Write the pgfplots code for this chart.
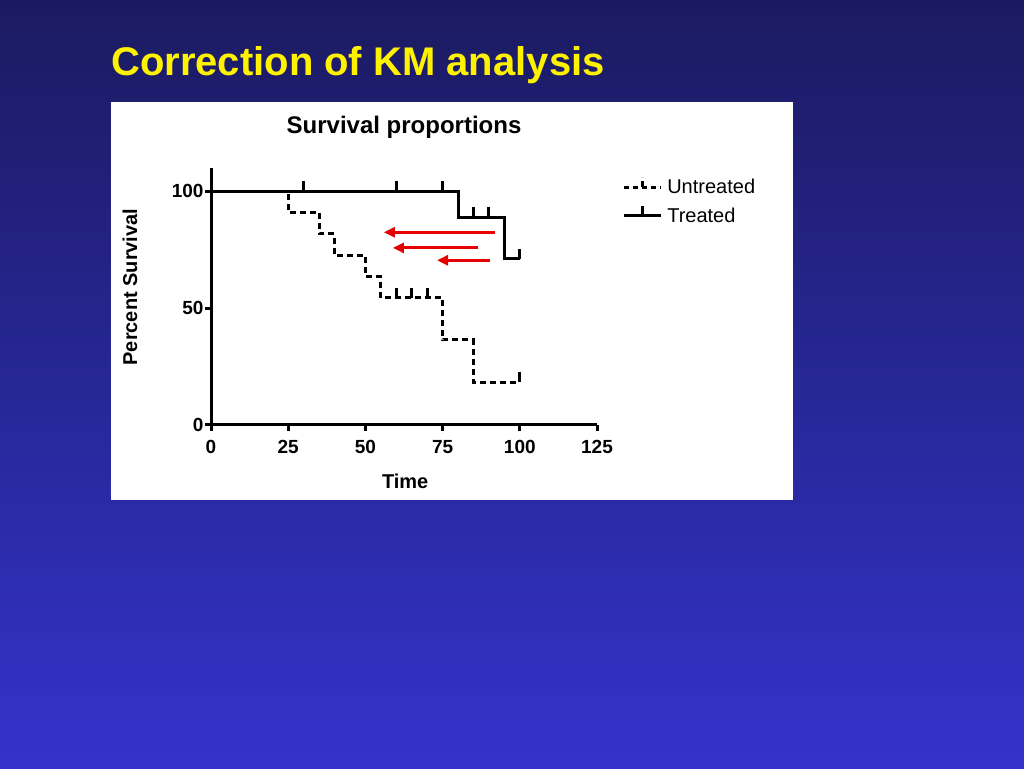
\documentclass[border=0pt]{standalone}
\usepackage{fontspec}
\setmainfont{Liberation Sans}
\usepackage{pgfplots}
\pgfplotsset{compat=1.18}
\usetikzlibrary{arrows.meta}
\definecolor{bgtop}{RGB}{27,26,96}
\definecolor{bgbot}{RGB}{51,51,204}
\definecolor{arrowred}{RGB}{232,0,0}
\pgfdeclareplotmark{cens}{%
  \pgfpathmoveto{\pgfqpoint{0pt}{0pt}}%
  \pgfpathlineto{\pgfqpoint{0pt}{10pt}}%
  \pgfusepathqstroke}
\begin{document}
\begin{tikzpicture}
\useasboundingbox (0pt,0pt) rectangle (1024pt,768pt);
\shade[top color=bgtop, bottom color=bgbot] (0pt,0pt) rectangle (1024pt,768pt);
\fill[white] (111pt,268pt) rectangle (793pt,666pt);
\node[anchor=base west, text=yellow, font=\fontsize{40}{48}\selectfont\bfseries, inner sep=0pt] at (111pt,692pt) {Correction of KM analysis};
\begin{axis}[
  at={(211pt,343pt)}, anchor=south west,
  scale only axis, width=386pt, height=257pt,
  xmin=0, xmax=125, ymin=0, ymax=110,
  axis lines=left,
  axis line style={-, line width=3pt},
  clip=false,
  xtick={0,25,50,75,100,125},
  ytick={0,50,100},
  tick align=outside,
  major tick length=6pt,
  every tick/.style={black, line width=3pt},
  /pgf/number format/assume math mode=true,
  tick label style={font=\fontsize{19}{21}\selectfont\bfseries},
  xticklabel style={anchor=north, text height=14pt, text depth=0pt, yshift=-5pt},
  yticklabel style={xshift=2pt},
  title={Survival proportions},
  title style={at={(axis description cs:0.5,1.135)}, anchor=center, font=\fontsize{24}{28}\selectfont\bfseries},
  xlabel={Time},
  xlabel style={at={(axis description cs:0.503,-0.218)}, anchor=center, font=\fontsize{20}{24}\selectfont\bfseries},
  ylabel={Percent Survival},
  ylabel style={at={(axis description cs:-0.21,0.537)}, anchor=center, font=\fontsize{20}{24}\selectfont\bfseries},
  legend style={at={(axis description cs:1.065,0.97)}, anchor=north west, draw=none, fill=none, inner sep=0pt,
    font=\fontsize{20}{24}\selectfont, row sep=7pt, cells={anchor=west}},
]
% Untreated
\addplot[const plot, black, line width=3pt, dash pattern=on 6pt off 4pt,
  legend image code/.code={\draw[black, line width=3pt, dash pattern=on 5pt off 4pt] (0pt,0pt) -- (37pt,0pt); \draw[black, line width=3pt] (19pt,0pt) -- (19pt,10pt); \path (40pt,0pt);}]
  coordinates {(0,100) (25,90.9) (35,81.8) (40,72.7) (50,63.6) (55,54.5) (75,36.4) (85,18.2) (100,18.2)};
\addlegendentry{Untreated}
% Treated
\addplot[const plot, black, line width=3pt,
  legend image code/.code={\draw[black, line width=3pt] (0pt,0pt) -- (37pt,0pt); \draw[black, line width=3pt] (19pt,0pt) -- (19pt,10pt); \path (40pt,0pt);}]
  coordinates {(0,100) (80,88.9) (95,71.1) (100,71.1)};
\addlegendentry{Treated}
% censor marks
\addplot[only marks, mark=cens, mark options={black, line width=3pt, solid}, forget plot]
  coordinates {(60,54.5) (65,54.5) (70,54.5) (100,18.2)};
\addplot[only marks, mark=cens, mark options={black, line width=3pt, solid}, forget plot]
  coordinates {(30,100) (60,100) (75,100) (85,88.9) (90,88.9) (100,71.1)};
% red arrows
\addplot[arrowred, line width=3pt, -{Triangle[length=11pt,width=10pt]}, forget plot] coordinates {(92.0,82.5) (56.0,82.5)};
\addplot[arrowred, line width=3pt, -{Triangle[length=11pt,width=10pt]}, forget plot] coordinates {(86.5,75.8) (58.9,75.8)};
\addplot[arrowred, line width=3pt, -{Triangle[length=11pt,width=10pt]}, forget plot] coordinates {(90.3,70.5) (73.2,70.5)};
\end{axis}
\end{tikzpicture}
\end{document}
